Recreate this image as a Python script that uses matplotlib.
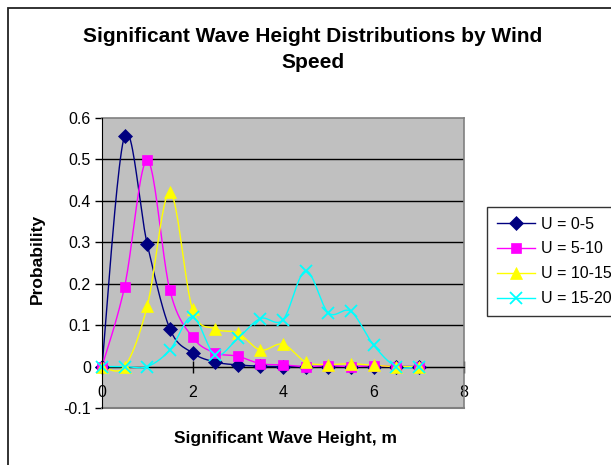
import numpy as np
import matplotlib
matplotlib.use("Agg")
import matplotlib.pyplot as plt
from matplotlib.lines import Line2D
from matplotlib.patches import Rectangle

plt.rcParams["font.family"] = ["Liberation Sans", "DejaVu Sans"]

# wave height bins (m)
hs = [0, 0.5, 1, 1.5, 2, 2.5, 3, 3.5, 4, 4.5, 5, 5.5, 6, 6.5, 7]

# probability per wind speed class
u_0_5 = [0, 0.557, 0.295, 0.091, 0.033, 0.011, 0.004, 0.001, 0, 0, 0, 0, 0, 0, 0]
u_5_10 = [0, 0.193, 0.498, 0.184, 0.071, 0.033, 0.025, 0.007, 0.004, 0, 0.002, 0, 0.002, 0, 0]
u_10_15 = [0, 0, 0.146, 0.421, 0.138, 0.091, 0.081, 0.04, 0.054, 0.011, 0.005, 0.007, 0.003, 0, 0]
u_15_20 = [0, 0, 0, 0.04, 0.12, 0.028, 0.068, 0.116, 0.113, 0.231, 0.13, 0.133, 0.052, 0, 0]

labels = ["U = 0-5", "U = 5-10", "U = 10-15", "U = 15-20"]
colors = ["#000080", "#FF00FF", "#FFFF00", "#00FFFF"]
markers = ["D", "s", "^", "x"]
msizes = [7, 7, 8.5, 8]


def smooth(x, y, n=24):
    # excel-like smoothed line: catmull-rom segments as cubic beziers
    p = np.column_stack([x, y]).astype(float)
    ext = np.vstack([p[0], p, p[-1]])
    t = np.linspace(0, 1, n)[:, None]
    out = []
    for i in range(len(p) - 1):
        p0, p1, p2, p3 = ext[i], ext[i + 1], ext[i + 2], ext[i + 3]
        c1 = p1 + (p2 - p0) / 6
        c2 = p2 - (p3 - p1) / 6
        seg = ((1 - t) ** 3) * p1 + 3 * ((1 - t) ** 2) * t * c1 \
            + 3 * (1 - t) * t ** 2 * c2 + t ** 3 * p2
        out.append(seg if i == 0 else seg[1:])
    out = np.vstack(out)
    return out[:, 0], out[:, 1]


W, H = 611, 465
fig = plt.figure(figsize=(W / 100, H / 100), dpi=100)
fig.patch.set_facecolor("white")

# chart border (right/bottom edges are cut off in the original)
fig.patches.append(Rectangle((8 / W, -0.1), 1.2, 1 - 8 / H + 0.1,
                             transform=fig.transFigure, fill=False,
                             edgecolor="#222222", lw=1.3))

ax = fig.add_axes([102 / W, 1 - 408 / H, 362 / W, 290 / H])
ax.set_facecolor("#C0C0C0")
ax.set_xlim(0, 8)
ax.set_ylim(-0.1, 0.6)

for yv in np.arange(-0.1, 0.61, 0.1)[1:-1]:
    ax.axhline(yv, color="black", lw=1, zorder=1)

series = [u_0_5, u_5_10, u_10_15, u_15_20]
handles = []
for vals, lab, c, m, ms in zip(series, labels, colors, markers, msizes):
    sx, sy = smooth(hs, vals)
    ax.plot(sx, sy, color=c, lw=1.0, zorder=3)
    mew = 1.3 if m == "x" else 0.5
    ax.plot(hs, vals, linestyle="none", marker=m, markersize=ms,
            color=c, markeredgecolor=c, markeredgewidth=mew, zorder=4,
            clip_on=False)
    handles.append(Line2D([], [], color=c, lw=1.0, marker=m, markersize=ms,
                          markeredgecolor=c, markeredgewidth=mew))

ax.spines["left"].set_color("black")
ax.spines["left"].set_zorder(5)
ax.spines["bottom"].set_position(("data", 0))
ax.spines["bottom"].set_color("black")
for s in ["top", "right"]:
    ax.spines[s].set_color("#808080")
    ax.spines[s].set_linewidth(1.2)
# plot-area bottom edge
ax.plot([0, 8], [-0.1, -0.1], color="#808080", lw=1.5, clip_on=False, zorder=5)

ax.set_xticks([0, 2, 4, 6, 8])
ax.set_yticks(np.round(np.arange(-0.1, 0.61, 0.1), 1))
ax.set_yticklabels(["-0.1", "0", "0.1", "0.2", "0.3", "0.4", "0.5", "0.6"])
ax.tick_params(axis="x", direction="inout", length=8, width=1, pad=9,
               labelsize=11.5)
ax.tick_params(axis="y", direction="out", length=5, width=1, pad=3,
               labelsize=11.5)

fig.text(313 / W, 1 - 37 / H, "Significant Wave Height Distributions by Wind",
         ha="center", va="center", fontsize=15, fontweight="bold")
fig.text(313 / W, 1 - 63 / H, "Speed",
         ha="center", va="center", fontsize=15, fontweight="bold")
fig.text(285 / W, 1 - 438 / H, "Significant Wave Height, m",
         ha="center", va="center", fontsize=12.5, fontweight="bold")
fig.text(37 / W, 1 - 259 / H, "Probability", rotation=90,
         ha="center", va="center", fontsize=12.5, fontweight="bold")

leg = fig.legend(handles, labels, loc="upper left",
                 bbox_to_anchor=(487 / W, 1 - 207 / H),
                 fontsize=11.5, frameon=True, fancybox=False,
                 handlelength=2.4, handletextpad=0.4, labelspacing=0.62,
                 borderpad=0.6, borderaxespad=0)
leg.get_frame().set_edgecolor("black")
leg.get_frame().set_linewidth(1)

fig.savefig("out.png", dpi=100)
